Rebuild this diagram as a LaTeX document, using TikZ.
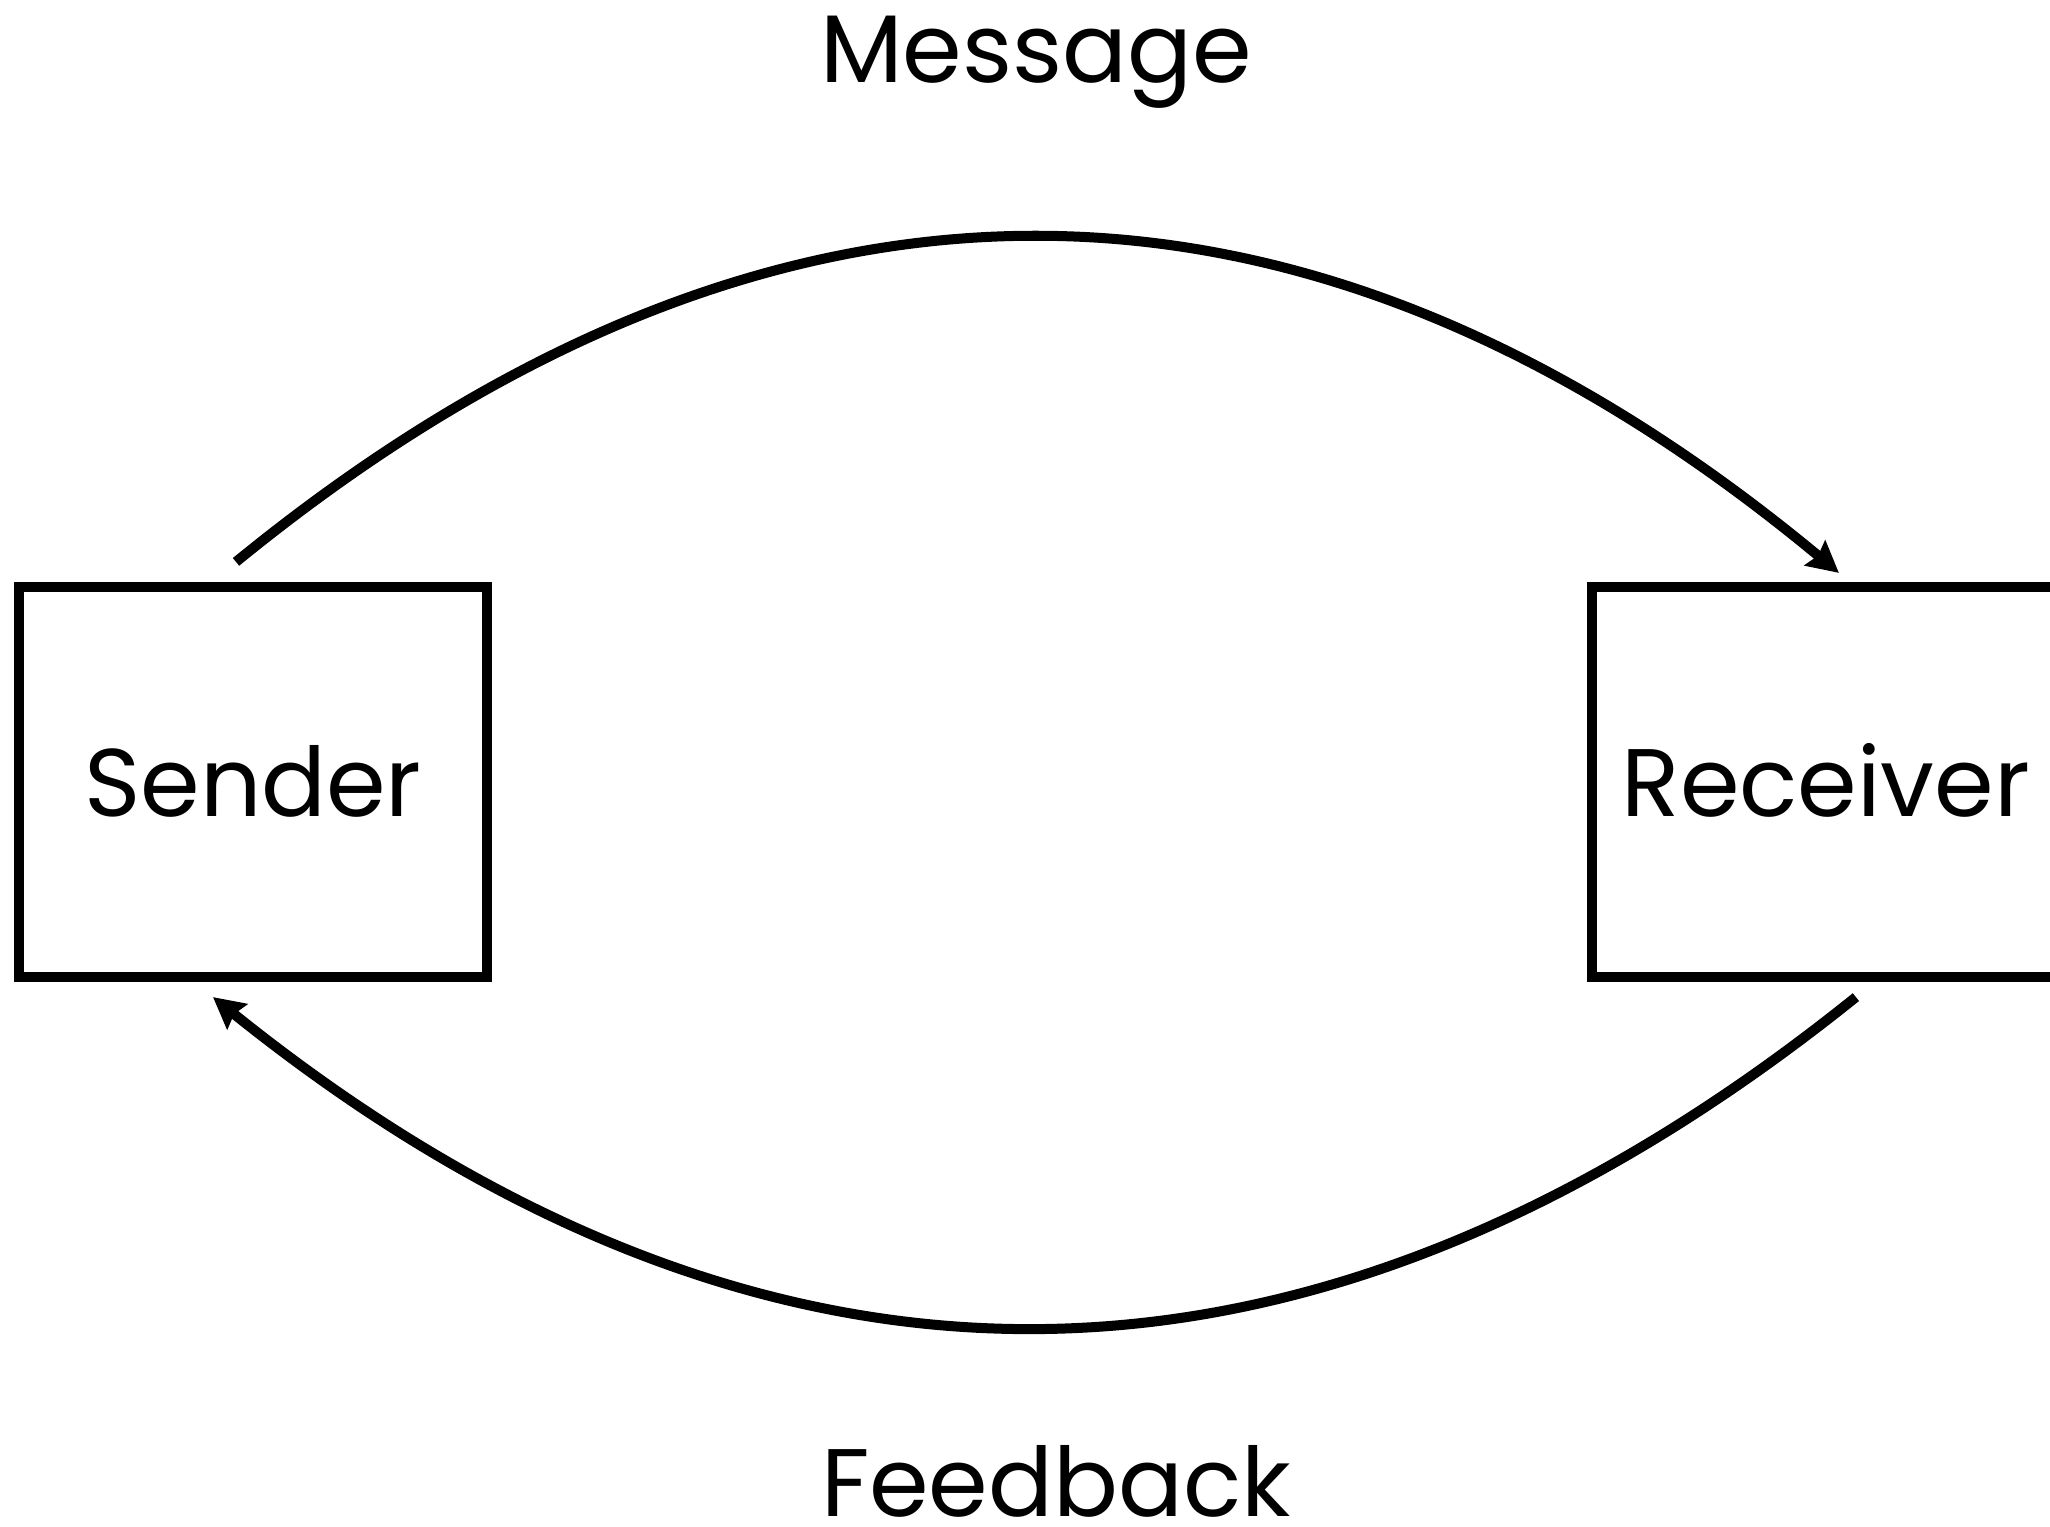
\documentclass[tikz,border=0pt]{standalone}
\usepackage{fontspec}
\setmainfont{Poppins}
\usetikzlibrary{arrows.meta,positioning}

\begin{document}
\begin{tikzpicture}[x=0.01cm,y=-0.01cm,node distance=15.72cm,on grid,
		>={Stealth[length=3.1mm,width=3.2mm,inset=0.4mm]},
		party/.style={rectangle,draw=black,line width=1mm,minimum width=4.68cm,minimum height=3.9cm,inner sep=0pt,text height=0.68cm,text depth=0pt,font=\fontsize{27.3}{33}\selectfont},
		tag/.style={anchor=base,inner sep=0pt,font=\fontsize{27.3}{33}\selectfont},
		flow/.style={->,line width=1mm}]
		\useasboundingbox (0,0) rectangle (2050,1527);
		\node[party]  (sender)   at (253,782)        {Sender};
		\node[party]  (receiver) [right=of sender]   {Receiver};
		\node[tag]    (message)  at (1036,83)        {Message};
		\node[tag]    (feedback) at (1056,1516)      {Feedback};
		
		\draw[flow] ([shift={(-17,-20)}]sender.north) .. controls +(534,-436) and +(-534,-443) .. ([shift={(13,-9)}]receiver.north);
		\draw[flow] ([shift={(30,15)}]receiver.south) .. controls +(-547,440) and +(547,440) .. ([shift={(-40,15)}]sender.south);
		\end{tikzpicture}
\end{document}
